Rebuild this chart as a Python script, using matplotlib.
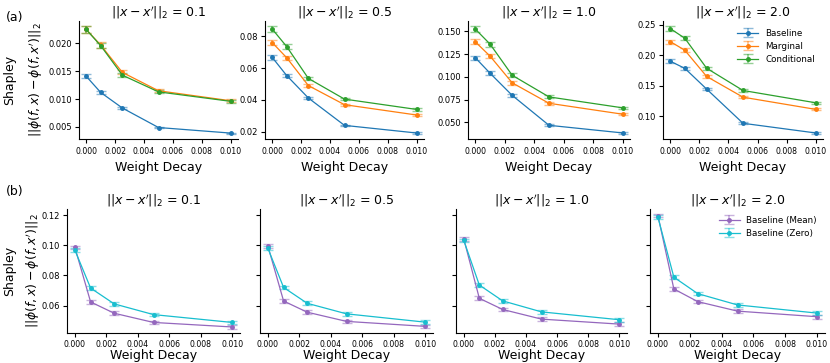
import numpy as np
import matplotlib
matplotlib.use("Agg")
import matplotlib.pyplot as plt

# weight decay values
wd = [0.0, 0.001, 0.0025, 0.005, 0.01]
dists = ["0.1", "0.5", "1.0", "2.0"]

# (a) baseline / marginal / conditional, one list per distance
baseline = [
    [0.0141, 0.0112, 0.0084, 0.0049, 0.0039],
    [0.0667, 0.0553, 0.0412, 0.0240, 0.0192],
    [0.1210, 0.1040, 0.0797, 0.0468, 0.0384],
    [0.1900, 0.1783, 0.1443, 0.0882, 0.0723],
]
marginal = [
    [0.0225, 0.0197, 0.0148, 0.0115, 0.0097],
    [0.0760, 0.0665, 0.0490, 0.0370, 0.0305],
    [0.1385, 0.1228, 0.0935, 0.0710, 0.0590],
    [0.2222, 0.2080, 0.1650, 0.1310, 0.1110],
]
conditional = [
    [0.0225, 0.0196, 0.0143, 0.0113, 0.0096],
    [0.0845, 0.0735, 0.0535, 0.0405, 0.0340],
    [0.1525, 0.1360, 0.1018, 0.0780, 0.0660],
    [0.2435, 0.2277, 0.1785, 0.1420, 0.1218],
]
# relative error bar half-width
err_a = [0.025, 0.02, 0.02, 0.015]

# (b) baseline mean / zero
base_mean = [
    [0.0986, 0.0624, 0.0549, 0.0488, 0.0458],
    [0.0995, 0.0630, 0.0556, 0.0495, 0.0462],
    [0.1042, 0.0648, 0.0574, 0.0510, 0.0477],
    [0.1196, 0.0710, 0.0626, 0.0563, 0.0526],
]
base_zero = [
    [0.0968, 0.0716, 0.0611, 0.0540, 0.0488],
    [0.0980, 0.0720, 0.0615, 0.0545, 0.0490],
    [0.1032, 0.0736, 0.0631, 0.0558, 0.0506],
    [0.1185, 0.0788, 0.0679, 0.0604, 0.0550],
]
err_b = 0.0012

W, H = 830, 363
fig = plt.figure(figsize=(W / 100, H / 100), dpi=100)


def px_axes(x0, x1, y0, y1, **kw):
    return fig.add_axes([x0 / W, 1 - y1 / H, (x1 - x0) / W, (y1 - y0) / H], **kw)


def style(ax, xpad=2.5):
    ax.spines["top"].set_visible(False)
    ax.spines["right"].set_visible(False)
    ax.tick_params(axis="x", labelsize=5.6, length=3, width=0.8, pad=xpad)
    ax.tick_params(axis="y", labelsize=6, length=3, width=0.8, pad=2.0)
    ax.set_xticks([0.0, 0.002, 0.004, 0.006, 0.008, 0.010])
    ax.set_xticklabels(["0.000", "0.002", "0.004", "0.006", "0.008", "0.010"])
    ax.set_xlim(-0.0005, 0.0105)


def errplot(ax, y, e, color, label):
    y = np.array(y)
    ax.errorbar(wd, y, yerr=e, color=color, lw=0.9, marker="o", ms=2.5,
                elinewidth=1.2, capsize=3.5, capthick=1.0, ecolor=color + "80",
                label=label)


# ---- (a) ----
top_x = [(79, 238), (265, 424), (468, 630), (663, 823)]
for i, (x0, x1) in enumerate(top_x):
    ax = px_axes(x0, x1, 21, 139)
    style(ax)
    e = err_a[i]
    errplot(ax, baseline[i], np.array(baseline[i]) * e, "#1f77b4", "Baseline")
    errplot(ax, marginal[i], np.array(marginal[i]) * e, "#ff7f0e", "Marginal")
    errplot(ax, conditional[i], np.array(conditional[i]) * e, "#2ca02c", "Conditional")
    ax.set_title(r"$||x - x'||_2$ = " + dists[i], fontsize=9, pad=-0.5)
    ax.set_xlabel("Weight Decay", fontsize=9, labelpad=3.5)
    if i == 0:
        ax.set_yticks([0.005, 0.010, 0.015, 0.020])
    elif i == 1:
        ax.set_yticks([0.02, 0.04, 0.06, 0.08])
    elif i == 2:
        ax.set_yticks([0.050, 0.075, 0.100, 0.125, 0.150])
    else:
        ax.set_yticks([0.10, 0.15, 0.20, 0.25])
        ax.legend(fontsize=6.3, frameon=False, loc="upper right",
                  bbox_to_anchor=(1.0, 1.0), handlelength=2.4, labelspacing=0.45)

# ---- (b) ----
bot_x = [(67, 240), (260, 433), (456, 627), (650, 825)]
ax0 = None
for i, (x0, x1) in enumerate(bot_x):
    ax = px_axes(x0, x1, 209, 333, sharey=ax0)
    if ax0 is None:
        ax0 = ax
    style(ax, xpad=2.0)
    errplot(ax, base_mean[i], err_b, "#9467bd", "Baseline (Mean)")
    errplot(ax, base_zero[i], err_b, "#17becf", "Baseline (Zero)")
    ax.set_title(r"$||x - x'||_2$ = " + dists[i], fontsize=9, pad=0.5)
    ax.set_xlabel("Weight Decay", fontsize=9, labelpad=0)
    if i > 0:
        ax.tick_params(labelleft=False)
    if i == 3:
        ax.legend(fontsize=6.3, frameon=False, loc="upper right",
                  bbox_to_anchor=(1.0, 1.01), handlelength=2.4, labelspacing=0.45)
ax0.set_yticks([0.06, 0.08, 0.10, 0.12])
ax0.set_ylim(0.0418, 0.124)

# y labels and panel tags
for yc, xm in ((80, 36), (271, 33)):
    fig.text(10 / W, 1 - yc / H, "Shapley", rotation=90, fontsize=9,
             ha="center", va="center")
    fig.text(xm / W, 1 - yc / H, r"$||\phi(f,x) - \phi(f,x')||_2$", rotation=90,
             fontsize=9, ha="center", va="center")
fig.text(6 / W, 1 - 17 / H, "(a)", fontsize=9, va="center")
fig.text(6 / W, 1 - 192 / H, "(b)", fontsize=9, va="center")

fig.savefig("out.png", dpi=100)
